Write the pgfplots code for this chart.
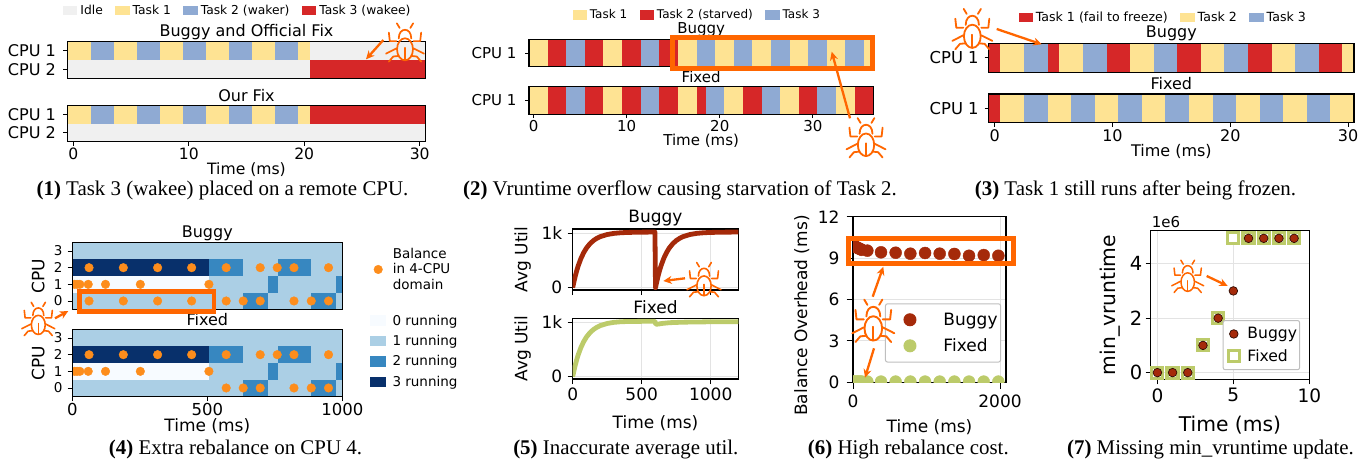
\documentclass[border=0pt]{standalone}
\usepackage{fontspec}
\setmainfont{DejaVu Sans}
\newfontfamily\capfont{Liberation Serif}
\usepackage{pgfplots}
\pgfplotsset{compat=1.18}
\usetikzlibrary{arrows.meta}
\definecolor{tY}{HTML}{FEE393}
\definecolor{tB}{HTML}{8FAAD3}
\definecolor{tR}{HTML}{D62728}
\definecolor{tI}{HTML}{F0F0F0}
\definecolor{h0}{HTML}{F7FBFF}
\definecolor{h1}{HTML}{ABCFE5}
\definecolor{h2}{HTML}{3787C0}
\definecolor{h3}{HTML}{08306B}
\definecolor{dot}{HTML}{FD8D1C}
\definecolor{bugc}{HTML}{FF6600}
\definecolor{bug}{HTML}{A52A0A}
\definecolor{fix}{HTML}{BCCB6A}
\newcommand\fs[1]{\fontsize{#1}{#1}\selectfont}
\newcommand\seg[5]{\addplot[fill=#1,draw=none,forget plot] coordinates {(#2,#4)(#3,#4)(#3,#5)(#2,#5)} -- cycle;}
\pgfplotsset{
 every axis title shift=0pt,
 T/.style={title style={at={([yshift=#1pt]axis description cs:0.5,1)},anchor=center}},
 XL/.style={xlabel style={at={([yshift=-#1pt]axis description cs:0.5,0)},anchor=center}},
 YL/.style={ylabel style={at={([xshift=-#1pt]axis description cs:0,0.5)},anchor=center}},
 XS/.style={xticklabel style={yshift=#1pt}},
 YS/.style={yticklabel style={xshift=#1pt}},
 markleg/.style={legend image code/.code={\path (0pt,0pt) (2*#1pt,0pt);\draw[mark repeat=2,mark phase=2,##1] plot coordinates {(0pt,0pt)(#1pt,0pt)(2*#1pt,0pt)};}},
 boxleg/.style={legend image code/.code={\fill[##1,draw=none] (0pt,-5.2pt) rectangle (15.7pt,5.2pt);}},
 base/.style={scale only axis,anchor=north west,tick align=outside,xtick pos=bottom,ytick pos=left,
   major tick length=4pt,every tick/.style={black,line width=.9pt},axis line style={line width=1.1pt},
   /pgf/number format/assume math mode=true,/pgf/number format/1000 sep={},
   title style={inner sep=0pt},clip=true},
 fonts/.style={tick label style={font=\fs{#1}},label style={font=\fs{#1}},title style={font=\fs{#1}}},
 patchleg/.style={legend columns=-1,
   legend image code/.code={\fill[##1,draw=none] (0pt,-4.6pt) rectangle (14.3pt,4.6pt);},
   legend style={draw=none,fill=none,inner sep=0pt,font=\fs{12.3},anchor=west,
     /tikz/every even column/.append style={column sep=12.5pt},
     /tikz/every odd column/.append style={column sep=3pt},nodes={inner sep=0pt}}},
}
\newcommand\bugicon[4]{% cx cy half linewidth
 \begin{scope}[shift={(#1,#2)},x=#3pt,y=#3pt,draw=bugc,line width=#4pt,line cap=round,line join=round]
  \draw (0,-.4) ellipse [x radius=.42,y radius=.58];
  \draw (-.33,.17) .. controls (-.33,.78) and (.33,.78) .. (.33,.17);
  \draw (-.28,.72)--(-.43,.97); \draw (.28,.72)--(.43,.97);
  \draw (-.45,.03)--(-.8,.03)--(-.85,.48); \draw (.45,.03)--(.8,.03)--(.85,.48);
  \draw (-.45,-.35)--(-1,-.63); \draw (.45,-.35)--(1,-.63);
  \draw (-.35,-.75)--(-.62,-.78)--(-.85,-1.05); \draw (.35,-.75)--(.62,-.78)--(.85,-1.05);
  \draw (0,-.32)--(0,-.97);
 \end{scope}}
\newcommand\bugarrow[4]{\draw[-{Stealth[length=8.5pt,width=8pt]},bugc,line width=2.3pt] (#1,#2)--(#3,#4);}
\newcommand\heat{%
 \seg{h1}{0}{1000}{2.5}{3.5}
 \seg{h3}{0}{506}{1.5}{2.5}\seg{h2}{506}{632}{1.5}{2.5}\seg{h1}{632}{760}{1.5}{2.5}\seg{h2}{760}{885}{1.5}{2.5}\seg{h1}{885}{1000}{1.5}{2.5}
 \seg{h0}{0}{506}{.5}{1.5}\seg{h1}{506}{725}{.5}{1.5}\seg{h2}{725}{760}{.5}{1.5}\seg{h1}{760}{975}{.5}{1.5}\seg{h2}{975}{1000}{.5}{1.5}
 \seg{h1}{0}{632}{-.5}{.5}\seg{h2}{632}{725}{-.5}{.5}\seg{h1}{725}{885}{-.5}{.5}\seg{h2}{885}{975}{-.5}{.5}\seg{h1}{975}{1000}{-.5}{.5}
}
\begin{document}
\begin{tikzpicture}
\useasboundingbox (0pt,0pt) rectangle (1370pt,-463pt);
%%%%% Panel 1
\begin{axis}[base,fonts=15.6,at={(67.5pt,-41.7pt)},width=358pt,height=36.6pt,axis on top,YS=-4,yticklabel style={font=\fs{16.1}},
 xmin=-.5,xmax=30.5,ymin=-.5,ymax=1.5,y dir=reverse,xtick=\empty,ytick={0,1},yticklabels={CPU 1,CPU 2},
 title={Buggy and Official Fix},title style={font=\fs{16}},T=10,patchleg,legend style={at={(-.0126,1.847)}}]
\addlegendimage{fill=tI}\addlegendentry{Idle}
\addlegendimage{fill=tY}\addlegendentry{Task 1}
\addlegendimage{fill=tB}\addlegendentry{Task 2 (waker)}
\addlegendimage{fill=tR}\addlegendentry{Task 3 (wakee)}
\seg{tY}{-.5}{1.5}{-.5}{.5}\seg{tB}{1.5}{3.5}{-.5}{.5}\seg{tY}{3.5}{5.5}{-.5}{.5}\seg{tB}{5.5}{7.5}{-.5}{.5}\seg{tY}{7.5}{9.5}{-.5}{.5}\seg{tB}{9.5}{11.5}{-.5}{.5}\seg{tY}{11.5}{13.5}{-.5}{.5}\seg{tB}{13.5}{15.5}{-.5}{.5}\seg{tY}{15.5}{17.5}{-.5}{.5}\seg{tB}{17.5}{19.5}{-.5}{.5}\seg{tY}{19.5}{20.5}{-.5}{.5}\seg{tI}{20.5}{30.5}{-.5}{.5}
\seg{tI}{-.5}{20.5}{.5}{1.5}\seg{tR}{20.5}{30.5}{.5}{1.5}
\end{axis}
\begin{axis}[base,fonts=15.6,at={(67.5pt,-105.7pt)},width=358pt,height=36pt,axis on top,YS=-4,XS=1,yticklabel style={font=\fs{16.1}},
 xmin=-.5,xmax=30.5,ymin=-.5,ymax=1.5,y dir=reverse,xtick={0,10,20,30},ytick={0,1},yticklabels={CPU 1,CPU 2},
 title={Our Fix},title style={font=\fs{16}},T=10,xlabel={Time (ms)},XL=28.3]
\seg{tY}{-.5}{1.5}{-.5}{.5}\seg{tB}{1.5}{3.5}{-.5}{.5}\seg{tY}{3.5}{5.5}{-.5}{.5}\seg{tB}{5.5}{7.5}{-.5}{.5}\seg{tY}{7.5}{9.5}{-.5}{.5}\seg{tB}{9.5}{11.5}{-.5}{.5}\seg{tY}{11.5}{13.5}{-.5}{.5}\seg{tB}{13.5}{15.5}{-.5}{.5}\seg{tY}{15.5}{17.5}{-.5}{.5}\seg{tB}{17.5}{19.5}{-.5}{.5}\seg{tY}{19.5}{20.5}{-.5}{.5}\seg{tR}{20.5}{30.5}{-.5}{.5}
\seg{tI}{-.5}{30.5}{.5}{1.5}
\end{axis}
%%%%% Panel 2
\begin{axis}[base,fonts=15,at={(529pt,-39.3pt)},width=344.3pt,height=27.4pt,axis on top,YS=-5,
 xmin=-.5,xmax=36.5,ymin=-.5,ymax=.5,xtick=\empty,ytick={0},yticklabels={CPU 1},
 title={Buggy},T=9.3,patchleg,legend style={font=\fs{12},at={(.1258,1.887)}}]
\addlegendimage{fill=tY}\addlegendentry{Task 1}
\addlegendimage{fill=tR}\addlegendentry{Task 2 (starved)}
\addlegendimage{fill=tB}\addlegendentry{Task 3}
\seg{tY}{-.5}{1.5}{-.5}{.5}\seg{tR}{1.5}{3.5}{-.5}{.5}\seg{tB}{3.5}{5.5}{-.5}{.5}\seg{tR}{5.5}{7.5}{-.5}{.5}\seg{tY}{7.5}{9.5}{-.5}{.5}\seg{tR}{9.5}{11.5}{-.5}{.5}\seg{tB}{11.5}{13.5}{-.5}{.5}\seg{tR}{13.5}{15.5}{-.5}{.5}\seg{tY}{15.5}{17.5}{-.5}{.5}\seg{tB}{17.5}{19.5}{-.5}{.5}\seg{tY}{19.5}{21.5}{-.5}{.5}\seg{tB}{21.5}{23.5}{-.5}{.5}\seg{tY}{23.5}{25.5}{-.5}{.5}\seg{tB}{25.5}{27.5}{-.5}{.5}\seg{tY}{27.5}{29.5}{-.5}{.5}\seg{tB}{29.5}{31.5}{-.5}{.5}\seg{tY}{31.5}{33.5}{-.5}{.5}\seg{tB}{33.5}{35.5}{-.5}{.5}\seg{tY}{35.5}{36.5}{-.5}{.5}
\end{axis}
\begin{axis}[base,fonts=15,at={(529pt,-86.7pt)},width=344.3pt,height=27.4pt,axis on top,YS=-5,XS=1,
 xmin=-.5,xmax=36.5,ymin=-.5,ymax=.5,xtick={0,10,20,30},ytick={0},yticklabels={CPU 1},
 title={Fixed},T=9.4,xlabel={Time (ms)},XL=27]
\seg{tY}{-.5}{1.5}{-.5}{.5}\seg{tR}{1.5}{3.5}{-.5}{.5}\seg{tB}{3.5}{5.5}{-.5}{.5}\seg{tR}{5.5}{7.5}{-.5}{.5}\seg{tY}{7.5}{9.5}{-.5}{.5}\seg{tR}{9.5}{11.5}{-.5}{.5}\seg{tB}{11.5}{13.5}{-.5}{.5}\seg{tR}{13.5}{15.5}{-.5}{.5}\seg{tY}{15.5}{17.5}{-.5}{.5}\seg{tR}{17.5}{18.5}{-.5}{.5}\seg{tB}{18.5}{20.5}{-.5}{.5}\seg{tY}{20.5}{22.5}{-.5}{.5}\seg{tR}{22.5}{24.5}{-.5}{.5}\seg{tB}{24.5}{26.5}{-.5}{.5}\seg{tY}{26.5}{28.5}{-.5}{.5}\seg{tR}{28.5}{30.5}{-.5}{.5}\seg{tB}{30.5}{32.5}{-.5}{.5}\seg{tY}{32.5}{34.5}{-.5}{.5}\seg{tR}{34.5}{36.5}{-.5}{.5}
\end{axis}
%%%%% Panel 3
\begin{axis}[base,fonts=16,at={(988.7pt,-43.3pt)},width=365.3pt,height=29pt,axis on top,YS=-2.5,yticklabel style={font=\fs{16.4}},
 xmin=-.5,xmax=30.5,ymin=-.5,ymax=.5,xtick=\empty,ytick={0},yticklabels={CPU 1},
 title={Buggy},T=10,patchleg,legend style={font=\fs{12.6},at={(.081,1.897)}}]
\addlegendimage{fill=tR}\addlegendentry{Task 1 (fail to freeze)}
\addlegendimage{fill=tY}\addlegendentry{Task 2}
\addlegendimage{fill=tB}\addlegendentry{Task 3}
\seg{tR}{-.5}{.5}{-.5}{.5}\seg{tY}{.5}{2.5}{-.5}{.5}\seg{tB}{2.5}{4.5}{-.5}{.5}\seg{tR}{4.5}{5.5}{-.5}{.5}\seg{tY}{5.5}{7.5}{-.5}{.5}\seg{tB}{7.5}{9.5}{-.5}{.5}\seg{tR}{9.5}{11.5}{-.5}{.5}\seg{tY}{11.5}{13.5}{-.5}{.5}\seg{tB}{13.5}{15.5}{-.5}{.5}\seg{tR}{15.5}{17.5}{-.5}{.5}\seg{tY}{17.5}{19.5}{-.5}{.5}\seg{tB}{19.5}{21.5}{-.5}{.5}\seg{tR}{21.5}{23.5}{-.5}{.5}\seg{tY}{23.5}{25.5}{-.5}{.5}\seg{tB}{25.5}{27.5}{-.5}{.5}\seg{tR}{27.5}{29.5}{-.5}{.5}\seg{tY}{29.5}{30.5}{-.5}{.5}
\end{axis}
\begin{axis}[base,fonts=16,at={(988.7pt,-94pt)},width=365.3pt,height=28.7pt,axis on top,YS=-2.5,XS=1,yticklabel style={font=\fs{16.4}},
 xmin=-.5,xmax=30.5,ymin=-.5,ymax=.5,xtick={0,10,20,30},ytick={0},yticklabels={CPU 1},
 title={Fixed},T=10.7,xlabel={Time (ms)},XL=29]
\seg{tR}{-.5}{.5}{-.5}{.5}\seg{tY}{.5}{2.5}{-.5}{.5}\seg{tB}{2.5}{4.5}{-.5}{.5}\seg{tY}{4.5}{6.5}{-.5}{.5}\seg{tB}{6.5}{8.5}{-.5}{.5}\seg{tY}{8.5}{10.5}{-.5}{.5}\seg{tB}{10.5}{12.5}{-.5}{.5}\seg{tY}{12.5}{14.5}{-.5}{.5}\seg{tB}{14.5}{16.5}{-.5}{.5}\seg{tY}{16.5}{18.5}{-.5}{.5}\seg{tB}{18.5}{20.5}{-.5}{.5}\seg{tY}{20.5}{22.5}{-.5}{.5}\seg{tB}{22.5}{24.5}{-.5}{.5}\seg{tY}{24.5}{26.5}{-.5}{.5}\seg{tB}{26.5}{28.5}{-.5}{.5}\seg{tY}{28.5}{30.5}{-.5}{.5}
\end{axis}
%%%%% Panel 4
\begin{axis}[base,fonts=17,at={(72.3pt,-242.7pt)},width=270pt,height=66.6pt,axis on top,YS=-1.5,major tick length=4.7pt,clip marker paths=true,
 xmin=0,xmax=1000,ymin=-.5,ymax=3.5,xtick=\empty,ytick={0,1,2,3},yticklabel style={font=\fs{13.5}},
 title={Buggy},title style={font=\fs{16}},T=9.4,ylabel={CPU},YL=34,
 legend style={draw=none,fill=none,inner sep=0pt,at={(1.1026,.598)},anchor=west,
   cells={align=left,anchor=west},nodes={inner sep=0pt},font=\fontsize{13.5}{15.5}\selectfont,
   /tikz/every odd column/.append style={column sep=6.6pt}}]
\heat
\addplot[only marks,mark=*,mark size=4.3pt,dot,mark options={draw=none,fill=dot},markleg=7.8] coordinates {
(62,2)(189,2)(316,2)(442,2)(570,2)(696,2)(759,2)(821,2)(949,2)
(8,1)(18,1)(28,1)(59,1)(123,1)(252,1)(506,1)
(62,0)(189,0)(316,0)(442,0)(570,0)(633,0)(696,0)(821,0)(885,0)(949,0)};
\addlegendentry{Balance\\in 4-CPU\\domain}
\end{axis}
\begin{axis}[base,fonts=17,at={(72.3pt,-329.7pt)},width=270pt,height=66.6pt,axis on top,YS=-1.5,XS=1.5,major tick length=4.7pt,clip marker paths=true,
 xmin=0,xmax=1000,ymin=-.5,ymax=3.5,xtick={0,500,1000},ytick={0,1,2,3},yticklabel style={font=\fs{13.5}},xticklabel style={font=\fs{16.5}},
 title={Fixed},title style={font=\fs{16}},T=9.7,ylabel={CPU},YL=34,xlabel={Time (ms)},XL=30,
 boxleg,
 legend style={draw=none,fill=none,inner sep=0pt,at={(1.1026,.677)},anchor=west,row sep=8.6pt,
   cells={anchor=west},nodes={inner sep=0pt},font=\fs{13.5},
   /tikz/every odd column/.append style={column sep=6.6pt}}]
\addlegendimage{fill=h0}\addlegendentry{0 running}
\addlegendimage{fill=h1}\addlegendentry{1 running}
\addlegendimage{fill=h2}\addlegendentry{2 running}
\addlegendimage{fill=h3}\addlegendentry{3 running}
\heat
\addplot[only marks,mark=*,mark size=4.3pt,dot,mark options={draw=none,fill=dot},forget plot] coordinates {
(62,2)(189,2)(316,2)(442,2)(570,2)(696,2)(759,2)(821,2)(949,2)
(8,1)(18,1)(28,1)(59,1)(123,1)(252,1)(506,1)
(570,0)(633,0)(696,0)(821,0)(885,0)(949,0)};
\end{axis}
%%%%% Panel 5
\begin{axis}[base,fonts=17,at={(572.7pt,-229pt)},width=165.6pt,height=61pt,major tick length=5pt,YS=-2,
 xmin=0,xmax=1200,ymin=-43,ymax=1080,xtick={0,500,1000},xticklabels={},ytick={0,1000},yticklabels={0,1k},
 grid=major,grid style={gray!22,line width=.9pt},title={Buggy},T=10.7,ylabel={Avg Util},YL=50]
\addplot[bug,line width=4.8pt,line join=round] coordinates {
(0,0)(10,120)(20,226)(30,320)(40,403)(60,540)(80,647)(100,731)(125,809)(150,867)(175,909)(200,940)(250,979)(300,1000)(350,1011)(400,1017)(500,1022)(596,1024)
(600,0)(610,120)(620,226)(630,320)(640,403)(660,540)(680,647)(700,731)(725,809)(750,867)(775,909)(800,940)(850,979)(900,1000)(950,1011)(1000,1017)(1100,1022)(1200,1024)};
\end{axis}
\begin{axis}[base,fonts=17,at={(572.7pt,-318.3pt)},width=165.6pt,height=60.7pt,major tick length=5pt,YS=-2,XS=-.5,
 xmin=0,xmax=1200,ymin=-43,ymax=1074,xtick={0,500,1000},ytick={0,1000},yticklabels={0,1k},
 grid=major,grid style={gray!22,line width=.9pt},title={Fixed},T=11.6,ylabel={Avg Util},YL=50,xlabel={Time (ms)},XL=44.3]
\addplot[fix,line width=4.8pt,line join=round] coordinates {
(0,0)(10,120)(20,226)(30,320)(40,403)(60,540)(80,647)(100,731)(125,809)(150,867)(175,909)(200,940)(250,979)(300,1000)(350,1011)(400,1015)(500,1018)(596,1018)
(602,965)(620,968)(650,980)(700,993)(800,1003)(1000,1010)(1200,1012)};
\end{axis}
%%%%% Panel 6
\begin{axis}[base,fonts=17,at={(853pt,-216.7pt)},width=153pt,height=165.6pt,major tick length=6.5pt,YS=-3.5,XS=-3,clip marker paths=true,
 xmin=0,xmax=2081,ymin=0,ymax=12,xtick={0,2000},ytick={0,3,6,9,12},
 grid=major,grid style={gray!22,line width=.9pt},xlabel={Time (ms)},XL=44.4,ylabel={Balance Overhead (ms)},
 ylabel style={at={([xshift=-51.3pt,yshift=-16pt]axis description cs:0,0.5)},anchor=center},
 legend style={draw=black!25,line width=1pt,rounded corners=2pt,fill=white,inner xsep=3pt,inner ysep=9pt,
   at={(.209,.477)},anchor=north west,cells={anchor=west},row sep=11.9pt,nodes={inner sep=0pt},font=\fs{17},
   /tikz/every odd column/.append style={column sep=12pt}}]
\addplot[only marks,mark=*,mark size=6pt,bug,mark options={draw=none,fill=bug},markleg=21] coordinates {
(5,9.85)(20,9.9)(40,9.8)(60,9.75)(80,9.7)(100,9.65)(120,9.6)(195,9.54)(381,9.42)(580,9.39)(780,9.32)(980,9.37)(1179,9.32)(1379,9.30)(1578,9.17)(1778,9.22)(1977,9.17)};
\addlegendentry{Buggy}
\addplot[only marks,mark=*,mark size=6pt,fix,mark options={draw=none,fill=fix},markleg=21] coordinates {
(5,.05)(20,.05)(40,.05)(60,.05)(80,.05)(100,.05)(120,.05)(195,.05)(381,.05)(580,.05)(780,.05)(980,.05)(1179,.05)(1379,.05)(1578,.05)(1778,.05)(1977,.05)};
\addlegendentry{Fixed}
\end{axis}
%%%%% Panel 7
\begin{axis}[base,fonts=18.5,at={(1150.7pt,-230.7pt)},width=158.6pt,height=148.6pt,major tick length=5pt,XS=-.5,scaled y ticks=false,
 xmin=-.44,xmax=10,ymin=-245000,ymax=5210000,xtick={0,5,10},ytick={0,2000000,4000000},yticklabels={0,2,4},
 yticklabel style={font=\fs{19.5}},label style={font=\fs{20.3}},
 grid=major,grid style={gray!22,line width=.9pt},xlabel={Time (ms)},XL=45.7,ylabel={min\_vruntime},YL=40.7,
 legend style={draw=black!25,line width=1pt,rounded corners=2pt,fill=white,inner xsep=2.5pt,inner ysep=7pt,
   at={(.454,.399)},anchor=north west,cells={anchor=west},row sep=9pt,nodes={inner sep=0pt},font=\fs{15.6},
   /tikz/every odd column/.append style={column sep=5.5pt}},reverse legend]
\addplot[only marks,mark=square*,mark size=5.5pt,fix,mark options={draw=fix,fill=white,line width=3.2pt},markleg=7.6] coordinates {
(0,0)(1,0)(2,0)(3,1000000)(4,2000000)(5,4930000)(6,4930000)(7,4930000)(8,4930000)(9,4930000)};
\addlegendentry{Fixed}
\addplot[only marks,mark=*,mark size=4.3pt,bug,mark options={draw=black!70!bug,fill=bug,line width=.7pt},markleg=7.6] coordinates {
(0,0)(1,0)(2,0)(3,1000000)(4,2000000)(5,3000000)(6,4930000)(7,4930000)(8,4930000)(9,4930000)};
\addlegendentry{Buggy}
\end{axis}
%%%%% Overlays
\begin{scope}[x=1pt,y=-1pt]
\bugicon{405}{41.7}{19}{1.7}\bugarrow{383.3}{40}{366}{59.3}
\draw[bugc,line width=4.5pt] (672.3,37.3) rectangle (872.3,68.3);
\bugicon{866}{137}{19.5}{1.8}\bugarrow{850}{118.3}{831.7}{51.7}
\bugicon{972.3}{28.3}{20}{1.8}\bugarrow{996.7}{29}{1041.7}{44.3}
\draw[bugc,line width=4.5pt] (79.3,291.3) rectangle (214,311.7);
\bugicon{38.3}{318.3}{16.5}{1.6}\bugarrow{55}{318.3}{68.3}{311}
\bugicon{704}{279}{17}{1.6}\bugarrow{685}{278.3}{663.3}{281}
\draw[bugc,line width=5pt] (848.5,238.3) rectangle (1013,263);
\bugicon{873.3}{320}{21}{1.9}\bugarrow{872.7}{296.7}{883.3}{266.7}\bugarrow{874}{348.3}{865}{377.7}
\bugicon{1187.7}{275.7}{16}{1.5}\bugarrow{1206.7}{276}{1227.7}{286}
\node[font=\fs{15},anchor=west,inner sep=0pt] at (1151.7,221.7) {1e6};
\begin{scope}[every node/.style={font=\capfont\fs{20.9},inner sep=0pt}]
\node at (222.5,190.7) {\textbf{(1)} Task 3 (wakee) placed on a remote CPU.};
\node at (680,190.7) {\textbf{(2)} Vruntime overflow causing starvation of Task 2.};
\node at (1135.5,190.7) {\textbf{(3)} Task 1 still runs after being frozen.};
\node at (235.5,449.3) {\textbf{(4)} Extra rebalance on CPU 4.};
\node at (625.8,449.3) {\textbf{(5)} Inaccurate average util.};
\node at (908.3,449.3) {\textbf{(6)} High rebalance cost.};
\node at (1210.5,449.3) {\textbf{(7)} Missing min\_vruntime update.};
\end{scope}
\end{scope}
\end{tikzpicture}
\end{document}
